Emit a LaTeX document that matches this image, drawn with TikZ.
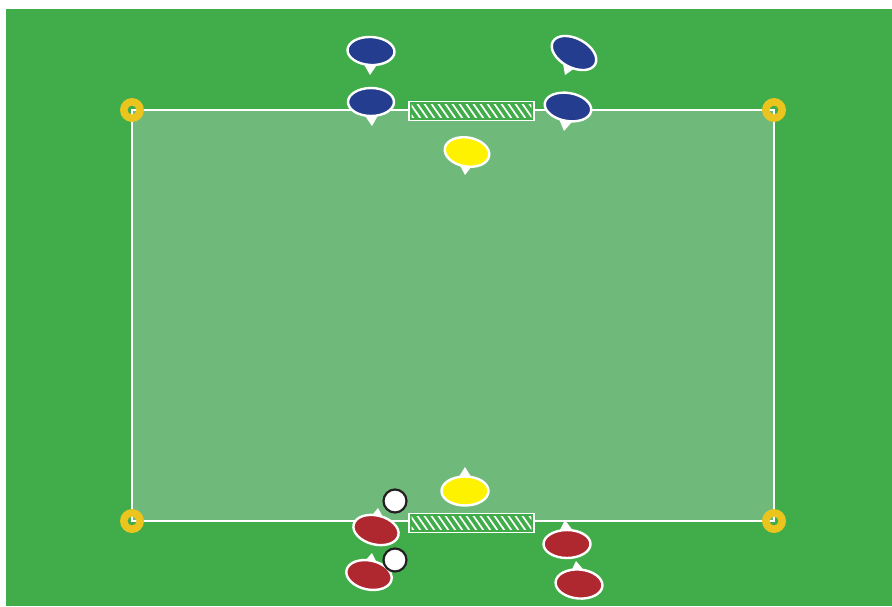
\documentclass[tikz,border=0pt]{standalone}
\usetikzlibrary{shapes.geometric,calc}
\definecolor{grass}{RGB}{65,173,74}
\definecolor{pitch}{RGB}{111,186,123}
\definecolor{tblue}{RGB}{37,61,143}
\definecolor{tred}{RGB}{176,40,47}
\definecolor{tyel}{RGB}{255,242,0}
\definecolor{cone}{RGB}{236,196,30}
\definecolor{ink}{RGB}{35,31,32}
\tikzset{
  player/.style={ellipse, draw=white, line width=2.4pt, inner sep=0pt},
  ball/.style={circle, draw=ink, fill=white, line width=2.2pt, minimum size=23pt, inner sep=0pt},
  goalbox/.style={rectangle, draw=white, fill=grass, line width=1.6pt, inner sep=0pt, minimum width=125pt, minimum height=19pt},
  hatch/.style={white, line width=1.7pt},
  ring/.style={fill=cone, even odd rule},
  fieldline/.style={draw=white, line width=1.5pt},
}
\newcommand\plyr[7]{%
  \coordinate (#1c) at (#3);
  \coordinate (#1t) at (#4);
  \fill[white] (#1t) -- ($(#1c)!0.4!(#1t)!9pt!90:(#1t)$) -- ($(#1c)!0.4!(#1t)!9pt!-90:(#1t)$) -- cycle;
  \node[player, fill=#2, minimum width=#5pt, minimum height=#6pt, rotate=#7] (#1) at (#1c) {};
}
\newcommand\goalhatch[1]{%
  \begin{scope}
    \clip ($(#1.north west)+(3.5,3.5)$) rectangle ($(#1.south east)+(-3.5,-3.5)$);
    \foreach \k in {-3,...,19} {
      \draw[hatch] ($(#1.north west)+(7*\k,0)$) -- ++(14,20);
    }
  \end{scope}
}
\begin{document}
\begin{tikzpicture}[x=1pt,y=-1pt]
  \useasboundingbox (0,0) rectangle (892,606);
  \fill[white] (0,0) rectangle (892,606);
  \fill[grass] (6,9) rectangle (892,606);
  % pitch
  \fill[pitch] (132,110) rectangle (774,521);
  \draw[fieldline] (132,110) rectangle (774,521);
  % goals
  \node[goalbox] (gtop) at (471.5,111) {};
  \goalhatch{gtop}
  \node[goalbox] (gbot) at (471.5,523) {};
  \goalhatch{gbot}
  % corner cones
  \fill[ring] (132,110) circle (12pt) (132,110) circle (4.5pt);
  \fill[ring] (774,110) circle (12pt) (774,110) circle (4.5pt);
  \fill[ring] (132,521) circle (12pt) (132,521) circle (4.5pt);
  \fill[ring] (774,521) circle (12pt) (774,521) circle (4.5pt);
  % players
  \plyr{b1}{tblue}{371,51}{370,75}{47}{28}{-3}
  \plyr{b2}{tblue}{371,102}{372,126}{46}{28}{0}
  \plyr{b3}{tblue}{574,53}{565,75}{48}{29}{-28}
  \plyr{b4}{tblue}{568,107}{564,131}{47}{28}{-10}
  \plyr{y1}{tyel}{467,152}{465,175}{45}{29}{-10}
  \plyr{y2}{tyel}{465,491}{465,467}{47}{29}{0}
  \plyr{r1}{tred}{376,530}{378,508}{46}{29}{-14}
  \plyr{r2}{tred}{369,575}{372,553}{46}{29}{-12}
  \plyr{r3}{tred}{567,544}{565,520}{47}{28}{0}
  \plyr{r4}{tred}{579,584}{576,561}{47}{29}{-5}
  % balls
  \node[ball] (ball1) at (395,501) {};
  \node[ball] (ball2) at (395,560) {};
\end{tikzpicture}
\end{document}
